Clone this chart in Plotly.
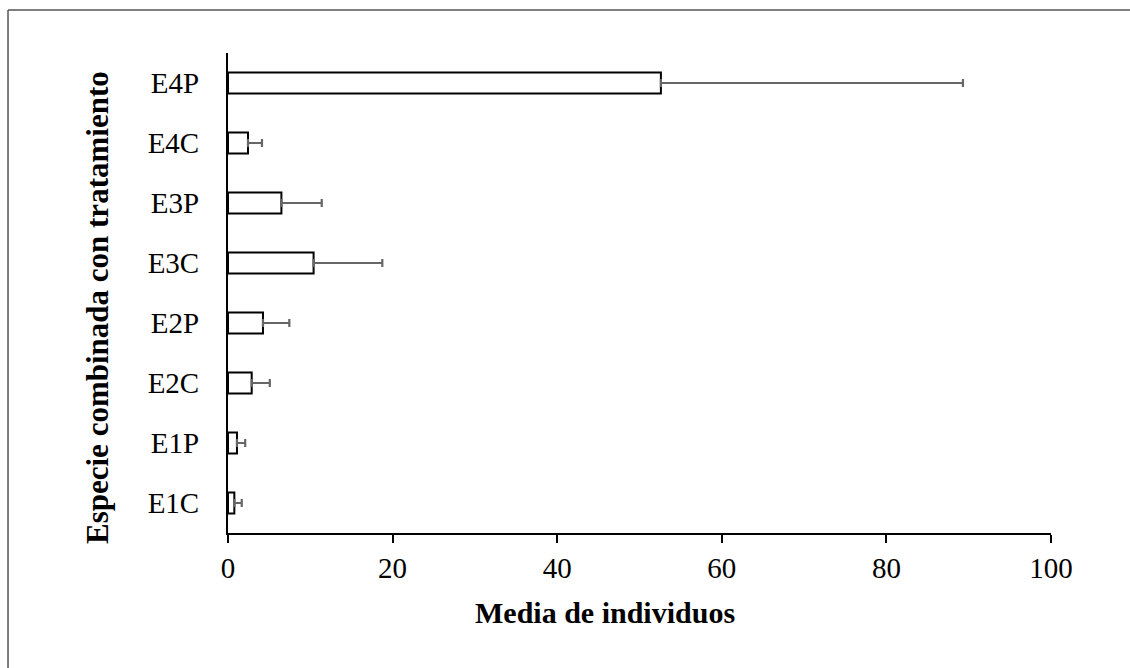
import plotly.graph_objects as go

# Mean number of individuals per species/treatment combination, with error
categories = ["E1C", "E1P", "E2C", "E2P", "E3C", "E3P", "E4C", "E4P"]
means = [0.77, 1.09, 2.88, 4.25, 10.4, 6.49, 2.43, 52.6]
errors = [0.9, 1.0, 2.2, 3.2, 8.35, 4.9, 1.7, 36.7]
x_ticks = [0, 20, 40, 60, 80, 100]

serif = "Liberation Serif, Times New Roman, serif"

fig = go.Figure()
fig.add_trace(go.Bar(
    y=categories,
    x=means,
    orientation="h",
    width=0.35,
    marker=dict(color="white", line=dict(color="black", width=2)),
    error_x=dict(
        type="data",
        symmetric=False,
        array=errors,
        arrayminus=[0] * len(errors),
        color="#666666",
        thickness=2.2,
        width=4,
    ),
    showlegend=False,
))

fig.update_layout(
    width=1130,
    height=668,
    margin=dict(l=228, r=79, t=53, b=135),
    paper_bgcolor="white",
    plot_bgcolor="white",
    font=dict(family=serif, color="black"),
    xaxis=dict(
        range=[0, 100],
        tickvals=x_ticks,
        ticks="outside",
        ticklen=8,
        tickwidth=2,
        tickcolor="black",
        showline=True,
        linecolor="black",
        linewidth=2,
        showgrid=False,
        zeroline=False,
        tickfont=dict(family=serif, size=29, color="black"),
    ),
    yaxis=dict(
        categoryorder="array",
        categoryarray=categories,
        range=[-0.5, 7.5],
        ticks="",
        showline=True,
        linecolor="black",
        linewidth=2,
        showgrid=False,
        zeroline=False,
        ticklabelstandoff=21,
        tickfont=dict(family=serif, size=29, color="black"),
    ),
    annotations=[
        dict(text="<b>Media de individuos</b>",
             xref="paper", yref="paper", x=0.4575, y=-0.1656,
             xanchor="center", yanchor="middle", showarrow=False,
             font=dict(family=serif, size=30, color="black")),
        dict(text="<b>Especie combinada con tratamiento</b>",
             xref="paper", yref="paper", x=-0.1592, y=0.4708,
             xanchor="center", yanchor="middle", showarrow=False,
             textangle=-90,
             font=dict(family=serif, size=31, color="black")),
    ],
    # frame lines along the top and left of the figure
    shapes=[
        dict(type="line", xref="paper", yref="paper",
             x0=-0.2673, x1=1.0960, y0=1.0896, y1=1.0896,
             line=dict(color="#555555", width=1.5)),
        dict(type="line", xref="paper", yref="paper",
             x0=-0.2673, x1=-0.2673, y0=-0.2813, y1=1.0896,
             line=dict(color="#555555", width=1.5)),
    ],
)

fig.write_html("out.html")
